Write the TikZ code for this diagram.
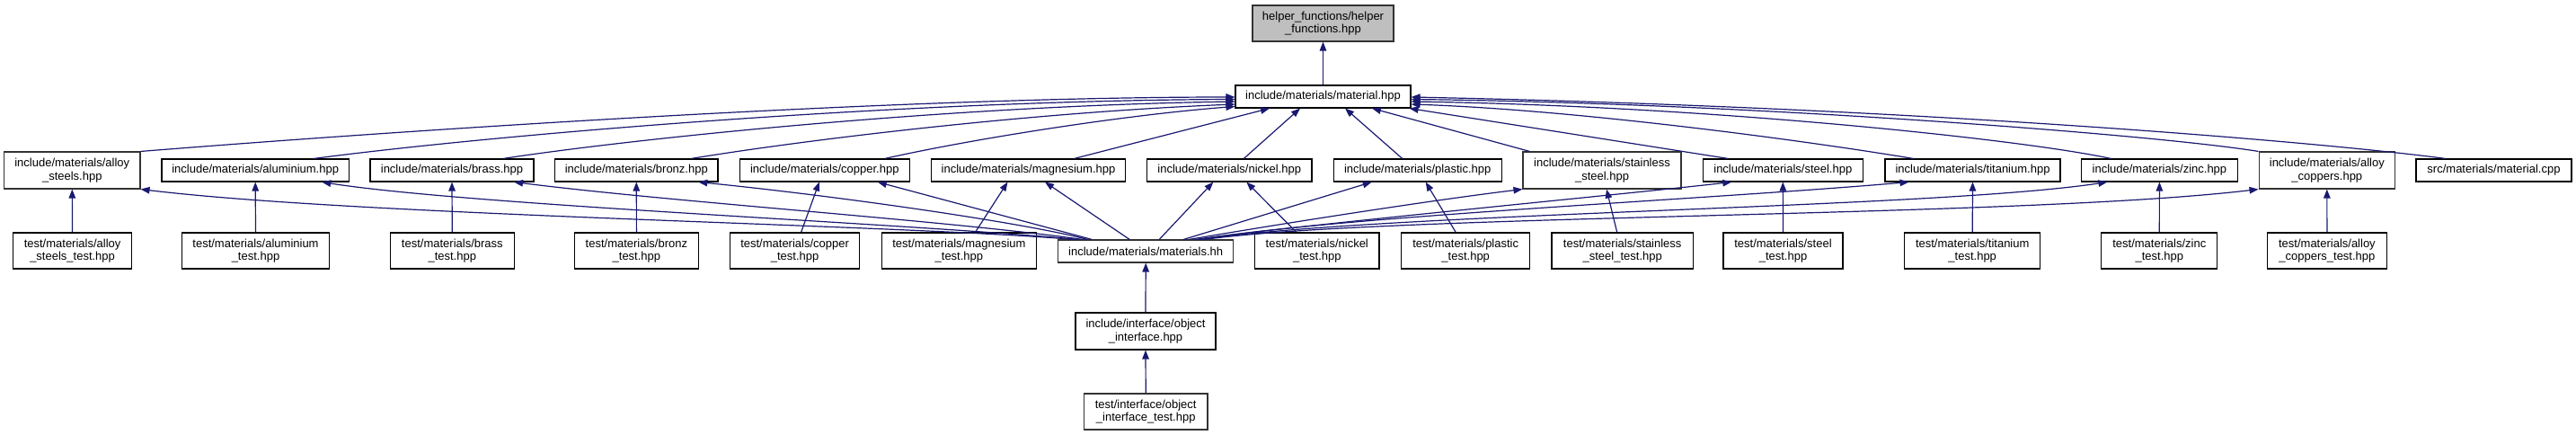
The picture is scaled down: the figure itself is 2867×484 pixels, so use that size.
\documentclass[tikz,border=0pt]{standalone}
\usepackage{fontspec}
\setmainfont{Liberation Sans}
\usetikzlibrary{arrows.meta,calc}
\definecolor{edgeblue}{HTML}{191970}
\definecolor{rootfill}{HTML}{BFBFBF}
\definecolor{boxline}{HTML}{333333}
\tikzset{
  box/.style={draw=black, line width=1.1pt, fill=white, inner sep=0pt, align=center,
              font=\fontsize{13}{14.5}\selectfont},
  boxg/.style={box, draw=boxline},
  rootbox/.style={boxg, fill=rootfill},
  one/.style={minimum height=25pt},
  two/.style={minimum height=40pt},
  edge/.style={draw=edgeblue, line width=1.2pt, -{Triangle[length=10pt,width=7.5pt]}},
}
\begin{document}
\begin{tikzpicture}[x=1pt,y=-1pt]
\useasboundingbox (0,0) rectangle (2867,484);
% row 0
\node[rootbox, two, minimum width=157pt] (helper) at (1472.5,26) {helper\_functions/helper\\\_functions.hpp};
% row 1
\node[box, one, minimum width=195pt] (mat) at (1472.5,107.5) {include/materials/material.hpp};
% row 2
\node[boxg, minimum height=41pt, minimum width=151.4pt] (as) at (80.3,189.5) {include/materials/alloy\\\_steels.hpp};
\node[box, one, minimum width=208.5pt] (al) at (284.2,189.5) {include/materials/aluminium.hpp};
\node[box, one, minimum width=182pt] (br) at (503,189.5) {include/materials/brass.hpp};
\node[box, one, minimum width=181.4pt] (bz) at (708.3,189.5) {include/materials/bronz.hpp};
\node[box, one, minimum width=188.5pt] (cu) at (917.8,189.5) {include/materials/copper.hpp};
\node[box, one, minimum width=215.8pt] (mg) at (1144.5,189.5) {include/materials/magnesium.hpp};
\node[box, one, minimum width=183.3pt] (ni) at (1368.3,189.5) {include/materials/nickel.hpp};
\node[box, one, minimum width=186.7pt] (pl) at (1577.7,189.5) {include/materials/plastic.hpp};
\node[boxg, minimum height=41pt, minimum width=176pt] (ss) at (1783,189.5) {include/materials/stainless\\\_steel.hpp};
\node[box, one, minimum width=177.5pt] (sl) at (1984.3,189.5) {include/materials/steel.hpp};
\node[box, one, minimum width=195pt] (ti) at (2195.5,189.5) {include/materials/titanium.hpp};
\node[box, one, minimum width=173.3pt] (zn) at (2403.4,189.5) {include/materials/zinc.hpp};
\node[boxg, minimum height=41pt, minimum width=151.5pt] (ac) at (2589.8,189.5) {include/materials/alloy\\\_coppers.hpp};
\node[box, one, minimum width=173pt] (mc) at (2775.5,189.5) {src/materials/material.cpp};
% row 3
\node[box, two, minimum width=131.8pt] (ast) at (80.6,279) {test/materials/alloy\\\_steels\_test.hpp};
\node[box, two, minimum width=164pt] (alt) at (284.5,279) {test/materials/aluminium\\\_test.hpp};
\node[box, two, minimum width=137.8pt] (brt) at (503.3,279) {test/materials/brass\\\_test.hpp};
\node[box, two, minimum width=137.3pt] (bzt) at (708.4,279) {test/materials/bronz\\\_test.hpp};
\node[box, two, minimum width=144.2pt] (cut) at (884.6,279) {test/materials/copper\\\_test.hpp};
\node[box, two, minimum width=172.7pt] (mgt) at (1067.4,279) {test/materials/magnesium\\\_test.hpp};
\node[boxg, one, minimum width=195pt] (mhh) at (1275.2,279.5) {include/materials/materials.hh};
\node[box, two, minimum width=138.4pt] (nit) at (1465.8,279) {test/materials/nickel\\\_test.hpp};
\node[box, two, minimum width=142.8pt] (plt) at (1631.2,279) {test/materials/plastic\\\_test.hpp};
\node[box, two, minimum width=157.4pt] (sst) at (1805.7,279) {test/materials/stainless\\\_steel\_test.hpp};
\node[box, two, minimum width=133pt] (slt) at (1984.5,279) {test/materials/steel\\\_test.hpp};
\node[box, two, minimum width=151pt] (tit) at (2195.2,279) {test/materials/titanium\\\_test.hpp};
\node[box, two, minimum width=129.2pt] (znt) at (2403.3,279) {test/materials/zinc\\\_test.hpp};
\node[box, two, minimum width=132.6pt] (act) at (2589.9,279) {test/materials/alloy\\\_coppers\_test.hpp};
% rows 4, 5
\node[box, minimum height=41pt, minimum width=156pt] (oi) at (1275,368.5) {include/interface/object\\\_interface.hpp};
\node[boxg, two, minimum width=137.5pt] (oit) at (1275.2,458) {test/interface/object\\\_interface\_test.hpp};

% edges: material -> helper
\draw[edge] (mat.north) -- (helper.south);
% row 2 -> material (left side)
\draw[edge] (as.north east) .. controls (450,145) and (1000,108) .. ($(mat.west)+(0,0.5)$);
\draw[edge] ($(al.north)+(65,0)$) .. controls (550,150) and (1000,112) .. ($(mat.west)+(0,3)$);
\draw[edge] ($(br.north)+(57,0)$) .. controls (700,155) and (1050,118) .. ($(mat.west)+(0,5.5)$);
\draw[edge] ($(bz.north)+(61,0)$) .. controls (900,155) and (1150,125) .. ($(mat.west)+(0,8.5)$);
\draw[edge] ($(cu.north)+(67,0)$) .. controls (1080,155) and (1250,128) .. ($(mat.west)+(0,11)$);
\draw[edge] ($(mg.north)+(51,0)$) -- ($(mat.south)+(-59.5,0)$);
\draw[edge] ($(ni.north)+(16,0)$) -- ($(mat.south)+(-25.5,0)$);
\draw[edge] ($(pl.north)+(-17,0)$) -- ($(mat.south)+(24.5,0)$);
\draw[edge] ($(ss.north west)+(8,0)$) -- ($(mat.south)+(54.5,0)$);
\draw[edge] ($(sl.north)+(-61,0)$) -- ($(mat.south east)+(-2,0)$);
% row 2 -> material (right side)
\draw[edge] ($(ti.north)+(-66,0)$) .. controls (2000,155) and (1750,122) .. ($(mat.east)+(0,8.5)$);
\draw[edge] ($(zn.north)+(-54,0)$) .. controls (2250,155) and (1900,118) .. ($(mat.east)+(0,5.5)$);
\draw[edge] (ac.north west) .. controls (2400,150) and (1950,115) .. ($(mat.east)+(0,3)$);
\draw[edge] ($(mc.north)+(-54,0)$) .. controls (2600,160) and (2150,120) .. ($(mat.east)+(0,0.5)$);
% materials.hh -> row 2
\draw[edge] ($(mhh.north)+(-80,0)$) .. controls (1000,250) and (400,240) .. (as.south east);
\draw[edge] ($(mhh.north)+(-75,0)$) .. controls (1000,248) and (520,228) .. ($(al.south)+(74,0)$);
\draw[edge] ($(mhh.north)+(-70,0)$) .. controls (1050,245) and (750,225) .. ($(br.south)+(69,0)$);
\draw[edge] ($(mhh.north)+(-65,0)$) .. controls (1150,250) and (950,220) .. ($(bz.south)+(69,0)$);
\draw[edge] ($(mhh.north)+(-60,0)$) -- ($(cu.south)+(59,0)$);
\draw[edge] ($(mhh.north)+(-18,0)$) -- ($(mg.south)+(18.5,0)$);
\draw[edge] ($(mhh.north)+(15,0)$) -- ($(ni.south)+(-18,0)$);
\draw[edge] ($(mhh.north)+(42,0)$) -- ($(pl.south)+(-51,0)$);
\draw[edge] ($(mhh.north)+(48,0)$) .. controls (1450,245) and (1600,222) .. (ss.south west);
\draw[edge] ($(mhh.north)+(55,0)$) .. controls (1450,250) and (1800,217) .. ($(sl.south)+(-57,0)$);
\draw[edge] ($(mhh.north)+(58,0)$) .. controls (1500,240) and (1900,222) .. ($(ti.south)+(-71,0)$);
\draw[edge] ($(mhh.north)+(61,0)$) .. controls (1550,236) and (2150,232) .. ($(zn.south)+(-58,0)$);
\draw[edge] ($(mhh.north)+(65,0)$) .. controls (1550,238) and (2250,242) .. (ac.south west);
% tests -> row 2
\draw[edge] (ast.north) -- (as.south);
\draw[edge] (alt.north) -- (al.south);
\draw[edge] (brt.north) -- (br.south);
\draw[edge] (bzt.north) -- (bz.south);
\draw[edge] ($(cut.north)+(7,0)$) -- ($(cu.south)+(-6,0)$);
\draw[edge] ($(mgt.north)+(18,0)$) -- ($(mg.south)+(-23,0)$);
\draw[edge] ($(nit.north)+(-23,0)$) -- ($(ni.south)+(19,0)$);
\draw[edge] ($(plt.north)+(-11,0)$) -- ($(pl.south)+(9,0)$);
\draw[edge] ($(sst.north)+(-6,0)$) -- ($(ss.south)+(5,0)$);
\draw[edge] (slt.north) -- (sl.south);
\draw[edge] (tit.north) -- (ti.south);
\draw[edge] (znt.north) -- (zn.south);
\draw[edge] (act.north) -- (ac.south);
% interface chain
\draw[edge] (oi.north) -- (mhh.south);
\draw[edge] (oit.north) -- (oi.south);
\end{tikzpicture}
\end{document}
